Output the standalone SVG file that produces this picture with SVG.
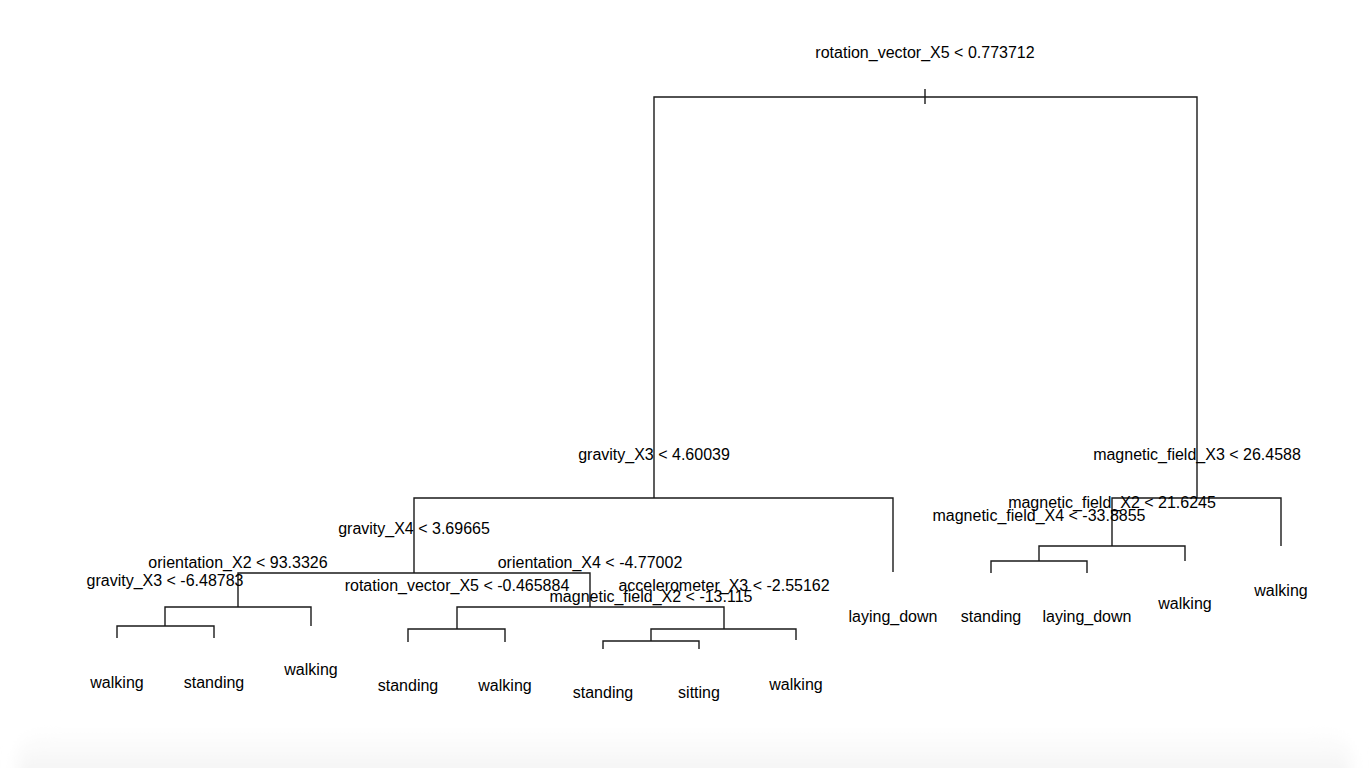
<svg xmlns="http://www.w3.org/2000/svg" width="1369" height="768" viewBox="0 0 1369 768">
<defs>
<style>
text{font-family:"Liberation Sans",Arial,sans-serif;font-size:16px;fill:#000;text-anchor:middle}
.e{fill:none;stroke:#1a1a1a;stroke-width:1.4}
</style>
<linearGradient id="sh" x1="0" y1="0" x2="0" y2="1">
<stop offset="0" stop-color="#ffffff"/>
<stop offset="1" stop-color="#ececec"/>
</linearGradient>
<filter id="bl" x="-0.05" y="-0.5" width="1.1" height="2"><feGaussianBlur stdDeviation="8"/></filter>
</defs>
<rect width="1369" height="768" fill="#fff"/>
<rect x="18" y="728" width="1333" height="80" rx="30" fill="url(#sh)" filter="url(#bl)"/>
<g id="connectors">
<path class="e" d="M925 89V104M654 498V97H1197V498"/>
<path class="e" d="M414 573V498H893V572"/>
<path class="e" d="M238 607V573H590V607"/>
<path class="e" d="M165 626V607H311V626"/>
<path class="e" d="M117 638V626H214V638"/>
<path class="e" d="M457 629V607H724V629"/>
<path class="e" d="M408 642V629H505V642"/>
<path class="e" d="M651 641V629H796V640"/>
<path class="e" d="M603 649V641H699V649"/>
<path class="e" d="M1112 546V498H1281V546"/>
<path class="e" d="M1039 561V546H1185V561"/>
<path class="e" d="M991 573V561H1087V573"/>
</g>
<g id="n_root"><text x="925" y="58">rotation_vector_X5 &lt; 0.773712</text></g>
<g id="n_gravity_X3_a"><text x="654" y="460">gravity_X3 &lt; 4.60039</text></g>
<g id="n_magnetic_field_X3"><text x="1197" y="460">magnetic_field_X3 &lt; 26.4588</text></g>
<g id="n_gravity_X4"><text x="414" y="534">gravity_X4 &lt; 3.69665</text></g>
<g id="n_orientation_X2"><text x="238" y="568">orientation_X2 &lt; 93.3326</text></g>
<g id="n_gravity_X3_b"><text x="165" y="586">gravity_X3 &lt; -6.48783</text></g>
<g id="n_orientation_X4"><text x="590" y="568">orientation_X4 &lt; -4.77002</text></g>
<g id="n_rotation_vector_X5_b"><text x="457" y="591">rotation_vector_X5 &lt; -0.465884</text></g>
<g id="n_accelerometer_X3"><text x="724" y="591">accelerometer_X3 &lt; -2.55162</text></g>
<g id="n_magnetic_field_X2_a"><text x="651" y="602">magnetic_field_X2 &lt; -13.115</text></g>
<g id="n_magnetic_field_X2_b"><text x="1112" y="508">magnetic_field_X2 &lt; 21.6245</text></g>
<g id="n_magnetic_field_X4"><text x="1039" y="521">magnetic_field_X4 &lt; -33.8855</text></g>
<g id="leaf1"><text x="117" y="688">walking</text></g>
<g id="leaf2"><text x="214" y="688">standing</text></g>
<g id="leaf3"><text x="311" y="675">walking</text></g>
<g id="leaf4"><text x="408" y="691">standing</text></g>
<g id="leaf5"><text x="505" y="691">walking</text></g>
<g id="leaf6"><text x="603" y="698">standing</text></g>
<g id="leaf7"><text x="699" y="698">sitting</text></g>
<g id="leaf8"><text x="796" y="690">walking</text></g>
<g id="leaf9"><text x="893" y="622">laying_down</text></g>
<g id="leaf10"><text x="991" y="622">standing</text></g>
<g id="leaf11"><text x="1087" y="622">laying_down</text></g>
<g id="leaf12"><text x="1185" y="609">walking</text></g>
<g id="leaf13"><text x="1281" y="596">walking</text></g>
</svg>
